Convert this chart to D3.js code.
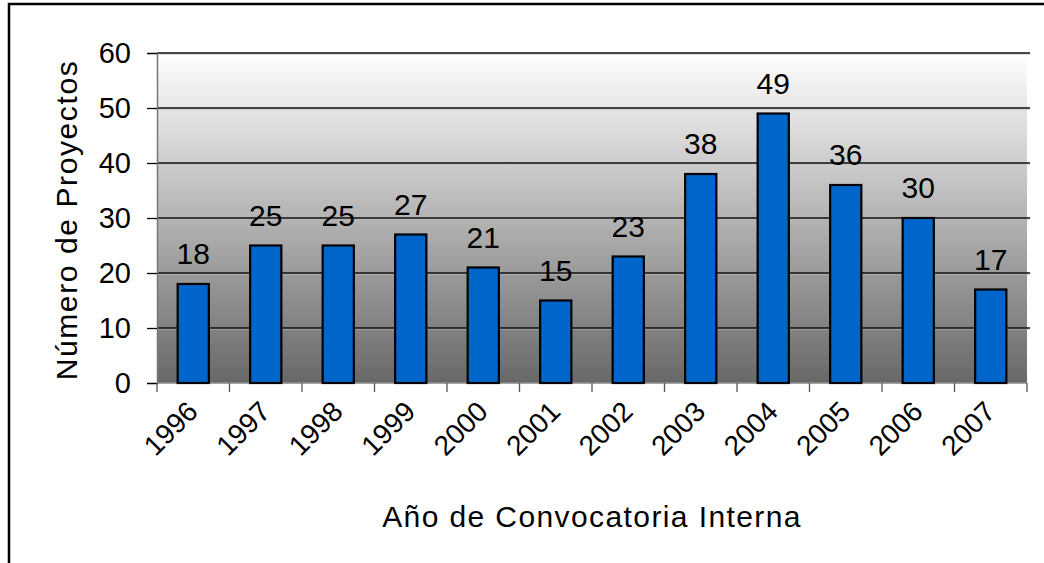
<!DOCTYPE html>
<html>
<head>
<meta charset="utf-8">
<script src="https://cdn.jsdelivr.net/npm/d3@7"></script>
<style>
body { margin:0; background:#fff; }
text { font-family: "Liberation Sans", Arial, sans-serif; fill:#000; }
</style>
</head>
<body>
<div id="chart"></div>
<script>
var years = ["1996","1997","1998","1999","2000","2001","2002","2003","2004","2005","2006","2007"];
var projects = [18,25,25,27,21,15,23,38,49,36,30,17];
var yTicks = [0,10,20,30,40,50,60];

var svgWidth = 1044, svgHeight = 563;
var margin = {top:53, right:17, bottom:180, left:157};
var width = 1027 - margin.left;
var height = 383 - margin.top;

var svg = d3.select("#chart").append("svg")
  .attr("width", svgWidth).attr("height", svgHeight);

// outer frame (right / bottom run off the picture)
svg.append("rect")
  .attr("x", 9).attr("y", 4).attr("width", 1060).attr("height", 600)
  .attr("fill", "none").attr("stroke", "#000").attr("stroke-width", 2.5);

var defs = svg.append("defs");
var grad = defs.append("linearGradient").attr("id", "bg")
  .attr("x1", 0).attr("y1", 0).attr("x2", 0).attr("y2", 1);
grad.append("stop").attr("offset", "0%").attr("stop-color", "#ffffff");
grad.append("stop").attr("offset", "100%").attr("stop-color", "#686868");

var g = svg.append("g").attr("transform", `translate(${margin.left},${margin.top})`);

var x = d3.scaleBand().domain(years).range([0, width]).paddingInner(0.57).paddingOuter(0.285);
var xCat = d3.scaleBand().domain(years).range([0, width]);
var y = d3.scaleLinear().domain([0, 60]).range([height, 0]);

g.append("rect").attr("width", width).attr("height", height).attr("fill", "url(#bg)");

// gridlines
var grid = g.selectAll(".grid").data(yTicks.filter(d => d > 0)).enter();
grid.append("line")
  .attr("x1", 0).attr("x2", width + 3)
  .attr("y1", d => y(d) + 1).attr("y2", d => y(d) + 1)
  .attr("stroke", "#bbb").attr("stroke-width", 1);
grid.append("line")
  .attr("x1", 0).attr("x2", width + 3)
  .attr("y1", d => y(d)).attr("y2", d => y(d))
  .attr("stroke", "#111").attr("stroke-width", 1.6);

// y axis
var leftAxis = d3.axisLeft(y).tickValues(yTicks).tickSize(10).tickPadding(16);
var ya = g.append("g").call(leftAxis);
ya.select(".domain").attr("stroke", "#777").attr("stroke-width", 1.5);
ya.selectAll(".tick line").attr("stroke", "#000").attr("stroke-width", 1.3);
ya.selectAll("text").attr("font-size", 29).attr("font-family", "Liberation Sans, Arial, sans-serif");

// x axis
var tickXs = d3.range(years.length + 1).map(i => i * xCat.step());
g.append("line").attr("x1", 0).attr("x2", width).attr("y1", height).attr("y2", height)
  .attr("stroke", "#888").attr("stroke-width", 1.5);
g.selectAll(".xt").data(tickXs).enter().append("line")
  .attr("x1", d => d).attr("x2", d => d).attr("y1", height).attr("y2", height + 9)
  .attr("stroke", "#555").attr("stroke-width", 1.3);

g.selectAll(".xl").data(years).enter().append("text")
  .attr("transform", d => `translate(${xCat(d) + xCat.bandwidth() / 2 - 8},${height + 16}) rotate(-45)`)
  .attr("text-anchor", "end").attr("dy", "0.72em")
  .attr("font-size", 28)
  .text(d => d);

// bars
g.selectAll(".bar").data(projects).enter().append("rect")
  .attr("x", (d, i) => x(years[i]))
  .attr("y", d => y(d))
  .attr("width", x.bandwidth())
  .attr("height", d => height - y(d))
  .attr("fill", "#0066cc").attr("stroke", "#000").attr("stroke-width", 2.2);

g.selectAll(".lbl").data(projects).enter().append("text")
  .attr("x", (d, i) => x(years[i]) + x.bandwidth() / 2)
  .attr("y", d => y(d) - 20)
  .attr("text-anchor", "middle").attr("font-size", 30)
  .text(d => d);

// axis titles
svg.append("text").attr("x", 592).attr("y", 527).attr("text-anchor", "middle")
  .attr("font-size", 30).attr("letter-spacing", 1.4).text("Año de Convocatoria Interna");
svg.append("text").attr("transform", "translate(77,220) rotate(-90)")
  .attr("text-anchor", "middle").attr("font-size", 30).attr("letter-spacing", 1.6).text("Número de Proyectos");
</script>
</body>
</html>
